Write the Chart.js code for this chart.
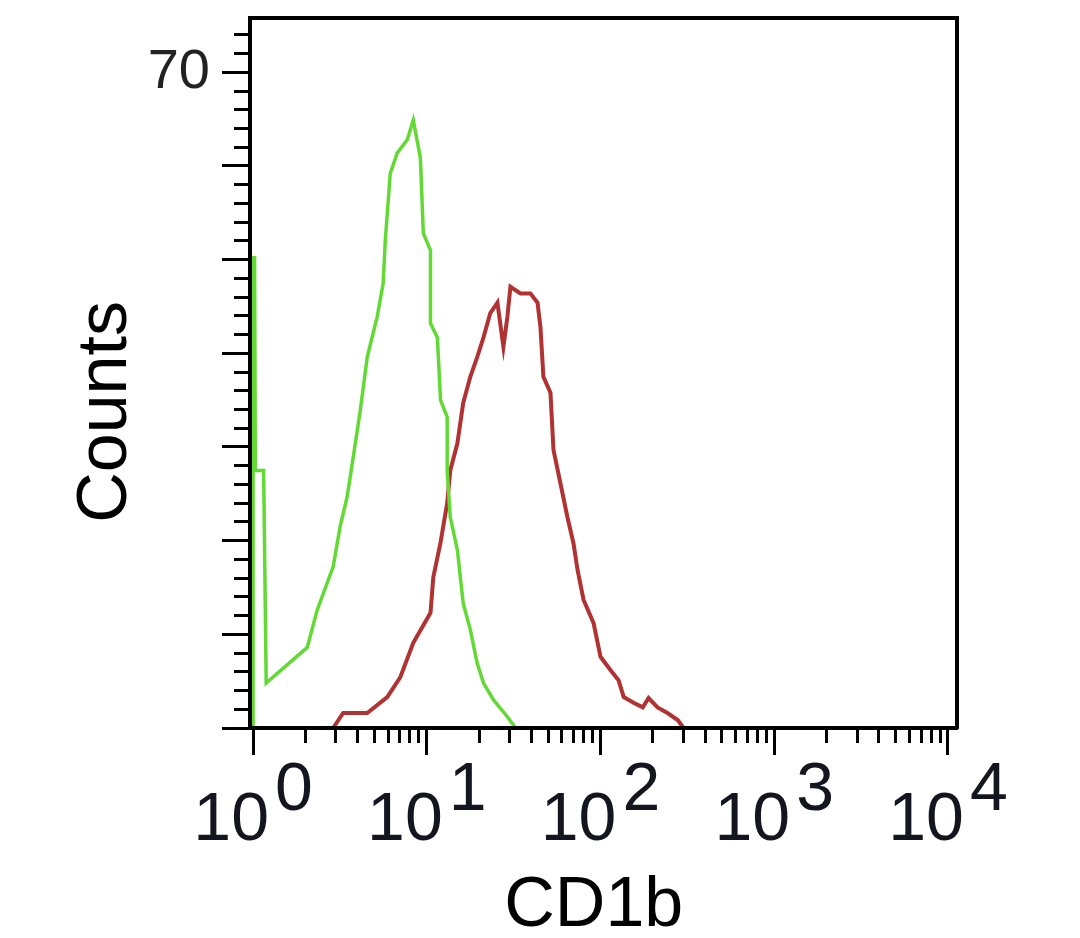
<!DOCTYPE html>
<html>
<head>
<meta charset="utf-8">
<script src="https://cdn.jsdelivr.net/npm/chart.js@4.4.1/dist/chart.umd.min.js"></script>
<style>
html,body{margin:0;padding:0;background:#ffffff;}
canvas{display:block;}
</style>
</head>
<body>
<canvas id="c" width="1080" height="938"></canvas>
<script>
// ---- data ----
const greenX = [1.0, 1.0, 1.02, 1.03, 1.15, 1.19, 2.05, 2.34, 2.89, 3.17, 3.48, 3.77, 4.14, 4.54, 5.18, 5.61, 5.77, 6.16, 6.76, 7.72, 8.36, 9.18, 9.55, 10.5, 10.5, 11.5, 12.0, 13.1, 13.1, 13.65, 15.0, 16.2, 17.8, 19.5, 21.2, 24.2, 29.1, 32.4];
const greenY = [0, 50.2, 50.2, 27.5, 27.5, 4.8, 8.6, 12.6, 17.2, 21.5, 24.7, 28.9, 33.9, 39.6, 43.9, 47.5, 52.1, 59.2, 61.4, 62.8, 64.9, 60.9, 52.8, 51.0, 43.2, 41.7, 35.0, 33.2, 27.5, 22.5, 19.0, 13.3, 10.5, 6.9, 4.8, 3.0, 1.2, 0];

const redX = [1.0, 2.89, 3.30, 4.54, 5.92, 7.03, 8.36, 10.5, 10.9, 11.97, 13.1, 13.65, 15.0, 16.2, 17.8, 19.5, 21.2, 23.2, 25.5, 27.6, 29.1, 30.3, 34.6, 39.5, 43.4, 45.1, 46.9, 51.5, 53.6, 58.8, 64.5, 69.9, 73.7, 79.8, 91.2, 100, 114, 127, 136, 155, 175, 189, 213, 243, 278, 301, 10000];
const redY = [0, 0, 1.6, 1.6, 3.3, 5.4, 9.1, 12.3, 16.1, 19.7, 24.0, 27.5, 30.4, 34.7, 37.5, 39.6, 41.7, 44.3, 45.4, 40.7, 43.9, 47.1, 46.4, 46.4, 45.4, 42.8, 37.5, 35.8, 29.7, 26.1, 22.5, 19.7, 16.9, 13.7, 11.2, 7.6, 6.2, 5.1, 3.3, 2.7, 2.2, 3.2, 2.2, 1.6, 0.85, 0, 0];

// ---- axes / tick labels ----
const xMin = 0.96, xMax = 11270;
const yMin = 0, yMax = 75.8;
const xTickValues = [1,2,3,4,5,6,7,8,9,10,20,30,40,50,60,70,80,90,100,200,300,400,500,600,700,800,900,1000,2000,3000,4000,5000,6000,7000,8000,9000,10000];
const xDecades = [1, 10, 100, 1000, 10000];
const xBaseLabel = '10';
const xExpLabels = ['0', '1', '2', '3', '4'];
const yLabelValues = [70];
const yMajorEvery = 10;
const xTitle = 'CD1b';
const yTitle = 'Counts';

const FAMILY = '"Liberation Sans", Arial, Helvetica, sans-serif';

const toPoints = (xs, ys) => xs.map((x, i) => ({x: x, y: ys[i]}));

const xLabelPlugin = {
  id: 'xPowerLabels',
  afterDraw(chart) {
    const ctx = chart.ctx;
    const xs = chart.scales.x;
    ctx.save();
    ctx.fillStyle = '#15151f';
    ctx.font = '68px ' + FAMILY;
    ctx.textAlign = 'left';
    ctx.textBaseline = 'alphabetic';
    xDecades.forEach((v, i) => {
      const px = xs.getPixelForValue(v);
      const wb = ctx.measureText(xBaseLabel).width;
      const we = ctx.measureText(xExpLabels[i]).width;
      const gap = 6;
      const start = px - (wb + gap + we) / 2;
      ctx.fillText(xBaseLabel, start, xs.top + 112);
      ctx.fillText(xExpLabels[i], start + wb + gap, xs.top + 82);
    });
    ctx.restore();
  }
};

new Chart(document.getElementById('c'), {
  type: 'line',
  data: {
    datasets: [
      {
        label: 'Isotype control',
        data: toPoints(greenX, greenY),
        borderColor: '#62d935',
        borderWidth: 3.5,
        pointRadius: 0,
        tension: 0,
        fill: false
      },
      {
        label: 'CD1b',
        data: toPoints(redX, redY),
        borderColor: '#b03232',
        borderWidth: 4,
        pointRadius: 0,
        tension: 0,
        fill: false
      }
    ]
  },
  options: {
    responsive: false,
    animation: false,
    devicePixelRatio: 1,
    layout: {padding: 0},
    plugins: {legend: {display: false}, tooltip: {enabled: false}},
    scales: {
      x: {
        type: 'logarithmic',
        position: 'bottom',
        min: xMin,
        max: xMax,
        afterBuildTicks: s => { s.ticks = xTickValues.map(v => ({value: v})); },
        afterFit: s => { s.height = 210; s.paddingLeft = 0; s.paddingRight = 0; },
        ticks: {display: false, autoSkip: false},
        grid: {
          display: true, drawOnChartArea: false, drawTicks: true,
          tickLength: 27, tickWidth: 3, tickColor: '#000',
          tickBorderDash: c => (c.tick && xDecades.includes(c.tick.value)) ? [] : [13, 100],
          z: 1
        },
        border: {display: true, color: '#000', width: 4, z: 1},
        title: {
          display: true, text: xTitle + ' ', color: '#000',
          font: {size: 70, family: FAMILY, lineHeight: 0.8},
          padding: {top: 0, bottom: 3}
        }
      },
      y: {
        type: 'linear',
        position: 'left',
        min: yMin,
        max: yMax,
        afterFit: s => { s.width = 250; s.paddingTop = 0; s.paddingBottom = 0; },
        ticks: {
          stepSize: 2, includeBounds: false, autoSkip: false, padding: 12,
          color: '#222', font: {size: 56, family: FAMILY},
          callback: v => yLabelValues.includes(v) ? String(v) : ''
        },
        grid: {
          display: true, drawOnChartArea: false, drawTicks: true,
          tickLength: 28, tickWidth: 3, tickColor: '#000',
          tickBorderDash: c => (c.tick && c.tick.value % yMajorEvery === 0) ? [] : [0, 12, 16, 100],
          z: 1
        },
        border: {display: true, color: '#000', width: 4, z: 1},
        title: {
          display: true, text: yTitle + '    ', color: '#000',
          font: {size: 70, family: FAMILY, lineHeight: 1},
          padding: {top: 72, bottom: 0}
        }
      },
      xTop: {
        type: 'linear',
        position: 'top',
        afterFit: s => { s.height = 18; s.paddingLeft = 0; s.paddingRight = 0; },
        ticks: {display: false},
        grid: {display: false},
        border: {display: true, color: '#000', width: 4, z: 1}
      },
      yRight: {
        type: 'linear',
        position: 'right',
        afterFit: s => { s.width = 123; s.paddingTop = 0; s.paddingBottom = 0; },
        ticks: {display: false},
        grid: {display: false},
        border: {display: true, color: '#000', width: 4, z: 1}
      }
    }
  },
  plugins: [xLabelPlugin]
});
</script>
</body>
</html>
